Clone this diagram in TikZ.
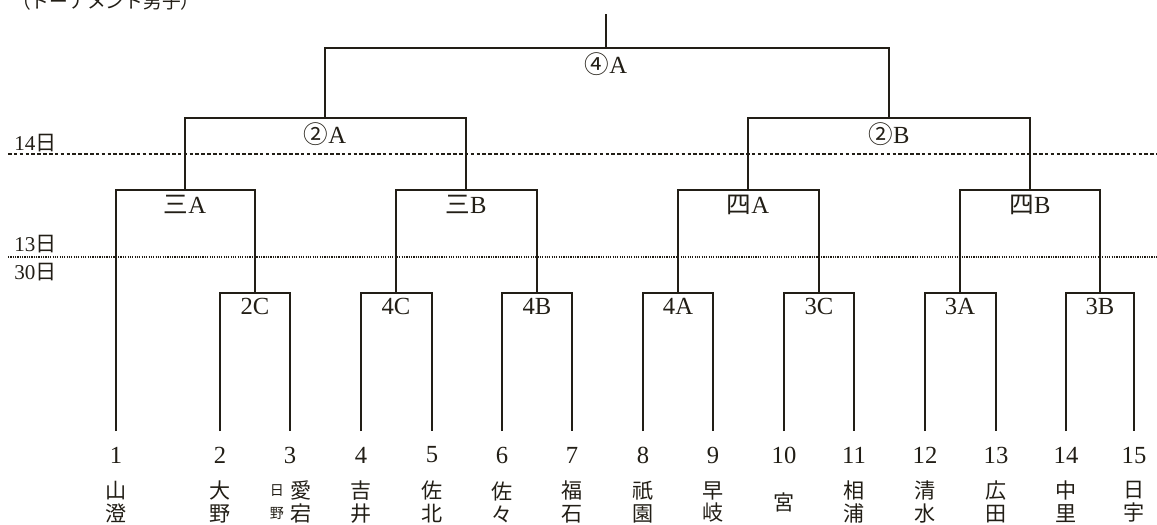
\documentclass[tikz,border=0pt]{standalone}
\usepackage{fontspec}
\setmainfont{Liberation Serif}
\newfontfamily\jp{Noto Sans CJK JP}
\newcommand\tightlines{\lineskiplimit=-30pt\relax}
\definecolor{ink}{HTML}{221E16}
\tikzset{
  bracket/.style={draw=ink,line width=1.4pt},
  num/.style={text=ink,font=\fontsize{21}{23}\selectfont},
  team/.style={text=ink,font=\jp\fontsize{18}{19.5}\selectfont\tightlines,align=center,inner sep=0pt},
  smallteam/.style={text=ink,font=\jp\fontsize{12}{19.5}\selectfont\tightlines,align=center,inner sep=0pt},
  mlabel/.style={text=ink,font=\fontsize{21}{23}\selectfont,below,inner sep=4pt},
  day/.style={text=ink,font=\fontsize{18}{20}\selectfont,anchor=west,inner sep=1pt},
}
\begin{document}
\begin{tikzpicture}[x=0.03cm,y=-0.03cm]
\useasboundingbox (0,0) rectangle (1157,524);

% title (cut off at the top)
\node[text=ink,font=\jp\fontsize{16}{18}\selectfont,anchor=west] (title) at (8,1) {（トーナメント男子）};

% days
\draw[ink,densely dashed,line width=1pt] (8,154) -- (1157,154);
\draw[ink,densely dotted,line width=1pt] (8,257) -- (1157,257);
\node[day] (d14) at (13,143) {14{\jp 日}};
\node[day] (d13) at (13,244) {13{\jp 日}};
\node[day] (d30) at (13,272) {30{\jp 日}};

% leaves
\foreach \x [count=\i] in {116,220,290,361,432,502,572,643,713,784,854,925,996,1066,1134}{
  \node[num] (n\i) at (\x,455) {\i};
  \coordinate (l\i) at (\x,431);
}

% teams
\node[team] (t1) at (116,502) {山\\澄};
\node[team] (t2) at (220,502) {大\\野};
\node[smallteam] (t3s) at (277,502) {日\\野};
\node[team] (t3) at (301,502) {愛\\宕};
\node[team] (t4) at (361,502) {吉\\井};
\node[team] (t5) at (432,502) {佐\\北};
\node[team] (t6) at (502,502) {佐\\々};
\node[team] (t7) at (572,502) {福\\石};
\node[team] (t8) at (643,502) {祇\\園};
\node[team] (t9) at (713,502) {早\\岐};
\node[team] (t10) at (784,502) {宮};
\node[team] (t11) at (854,502) {相\\浦};
\node[team] (t12) at (925,502) {清\\水};
\node[team] (t13) at (996,502) {広\\田};
\node[team] (t14) at (1066,502) {中\\里};
\node[team] (t15) at (1134,502) {日\\宇};

% first round
\foreach \a/\b/\m/\x in {2/3/2C/255,4/5/4C/396,6/7/4B/537,8/9/4A/678,10/11/3C/819,12/13/3A/960,14/15/3B/1100}{
  \coordinate (m\m) at (\x,293);
  \draw[bracket] (l\a) |- (m\m) -| (l\b);
  \node[mlabel] (lb\m) at (m\m) {\m};
}

% second round
\coordinate (q3A) at (185,190);
\coordinate (q3B) at (466,190);
\coordinate (q4A) at (748,190);
\coordinate (q4B) at (1030,190);
\draw[bracket] (l1) |- (q3A) -| (m2C);
\draw[bracket] (m4C) |- (q3B) -| (m4B);
\draw[bracket] (m4A) |- (q4A) -| (m3C);
\draw[bracket] (m3A) |- (q4B) -| (m3B);
\node[mlabel] (lq3A) at (q3A) {{\jp 三}A};
\node[mlabel] (lq3B) at (q3B) {{\jp 三}B};
\node[mlabel] (lq4A) at (q4A) {{\jp 四}A};
\node[mlabel] (lq4B) at (q4B) {{\jp 四}B};

% semi final
\coordinate (s2A) at (325,118);
\coordinate (s2B) at (889,118);
\draw[bracket] (q3A) |- (s2A) -| (q3B);
\draw[bracket] (q4A) |- (s2B) -| (q4B);
\node[mlabel] (ls2A) at (s2A) {{\jp ②}A};
\node[mlabel] (ls2B) at (s2B) {{\jp ②}B};

% final
\coordinate (f4A) at (606,48);
\coordinate (top) at (606,14);
\draw[bracket] (s2A) |- (f4A) -| (s2B);
\draw[bracket] (f4A) -- (top);
\node[mlabel] (lf4A) at (f4A) {{\jp ④}A};
\end{tikzpicture}
\end{document}
